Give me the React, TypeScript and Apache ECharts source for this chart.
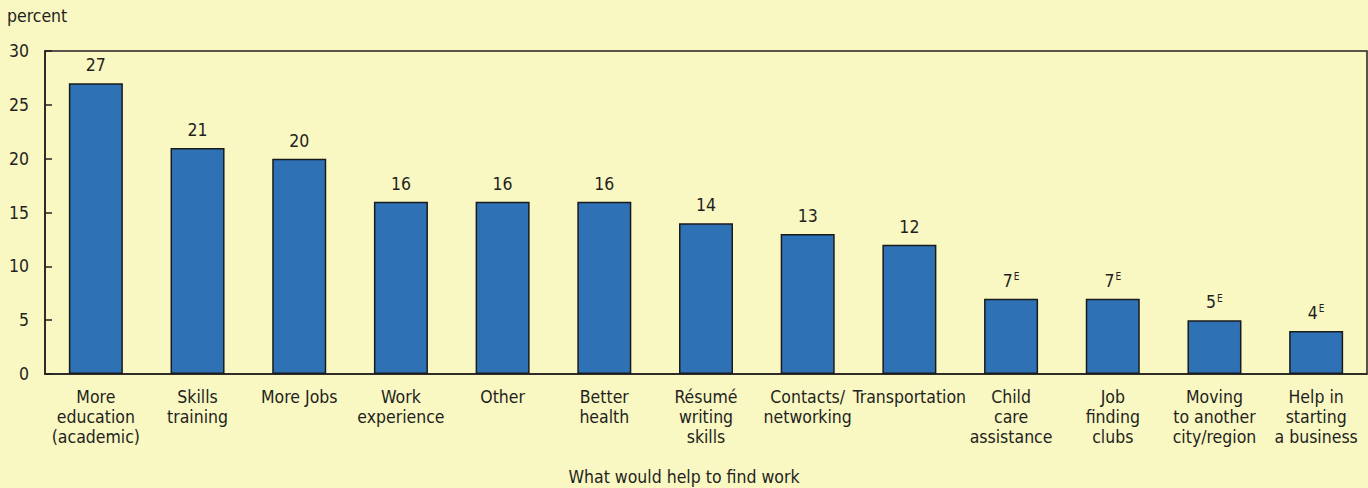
import React, { useEffect, useRef } from "react";
import * as echarts from "echarts";

const categories = [
  "More\neducation\n(academic)",
  "Skills\ntraining",
  "More Jobs",
  "Work\nexperience",
  "Other",
  "Better\nhealth",
  "Résumé\nwriting\nskills",
  "Contacts/\nnetworking",
  "Transportation",
  "Child\ncare\nassistance",
  "Job\nfinding\nclubs",
  "Moving\nto another\ncity/region",
  "Help in\nstarting\na business",
];
const values = [27, 21, 20, 16, 16, 16, 14, 13, 12, 7, 7, 5, 4];
const flagged = [false, false, false, false, false, false, false, false, false, true, true, true, true];
const yTicks = [0, 5, 10, 15, 20, 25, 30];

const FONT = "'DejaVu Sans Condensed', 'Liberation Sans Narrow', 'Roboto', sans-serif";
const TXT = "#231f20";

export default function App() {
  const ref = useRef<HTMLDivElement>(null);
  useEffect(() => {
    if (!ref.current) return;
    const chart = echarts.init(ref.current, undefined, { renderer: "svg" });
    chart.setOption({
      animation: false,
      backgroundColor: "#f9f7c2",
      textStyle: { fontFamily: FONT, color: TXT },
      grid: {
        left: 45,
        right: 1,
        top: 51,
        bottom: 114,
        show: true,
        borderColor: TXT,
        borderWidth: 1.5,
        backgroundColor: "transparent",
      },
      graphic: [
        {
          type: "text",
          left: 7,
          top: 7,
          style: { text: "percent", font: `17.5px ${FONT}`, fill: TXT },
        },
        {
          type: "text",
          left: "center",
          top: 468,
          style: { text: "What would help to find work", font: `17.5px ${FONT}`, fill: TXT },
        },
      ],
      xAxis: {
        type: "category",
        data: categories,
        axisLine: { show: true, lineStyle: { color: TXT, width: 1.5 } },
        axisTick: { show: false },
        axisLabel: {
          interval: 0,
          margin: 13,
          fontSize: 17.5,
          lineHeight: 20,
          color: TXT,
          fontFamily: FONT,
        },
      },
      yAxis: {
        type: "value",
        min: yTicks[0],
        max: yTicks[yTicks.length - 1],
        interval: 5,
        splitLine: { show: false },
        axisLine: { show: true, lineStyle: { color: TXT, width: 1.5 } },
        axisTick: { show: true, inside: true, length: 7, lineStyle: { color: TXT, width: 1.5 } },
        axisLabel: { fontSize: 17.5, color: TXT, fontFamily: FONT, margin: 16 },
      },
      series: [
        {
          type: "bar",
          barWidth: 54,
          data: values.map((v, i) => ({ value: v, flag: flagged[i] })),
          itemStyle: { color: "#2e72b5", borderColor: "#1a1a1a", borderWidth: 1.5 },
          label: {
            show: true,
            position: "top",
            distance: 9,
            fontSize: 17.5,
            color: TXT,
            fontFamily: FONT,
            formatter: (p: any) => (flagged[p.dataIndex] ? `${p.value}{sup|E}` : `${p.value}`),
            rich: {
              sup: { fontSize: 10, verticalAlign: "top", padding: [0, 0, 8, 1], color: TXT, fontFamily: FONT },
            },
          },
        },
      ],
    });
    return () => chart.dispose();
  }, []);
  return <div ref={ref} style={{ width: 1368, height: 488, position: "absolute", left: 0, top: 0 }} />;
}
